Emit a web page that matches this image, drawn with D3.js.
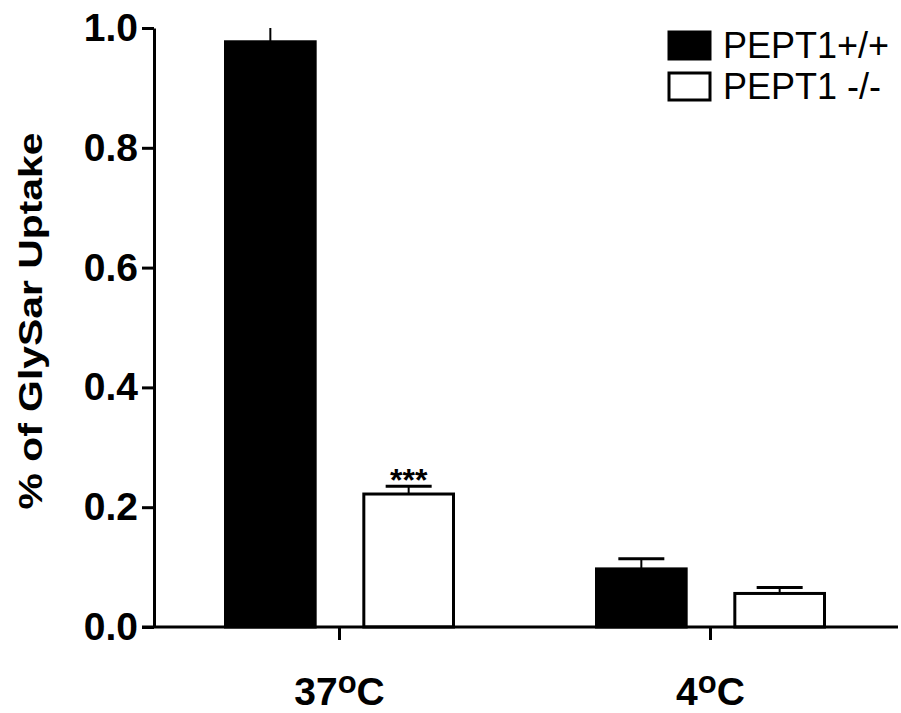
<!DOCTYPE html>
<html>
<head>
<meta charset="utf-8">
<script src="https://cdn.jsdelivr.net/npm/d3@7"></script>
<style>
  body { margin: 0; background: #fff; }
  svg { display: block; font-family: "Liberation Sans", Arial, sans-serif; }
</style>
</head>
<body>
<div id="chart"></div>
<script>
// data
const categories = ["37\u00b0C", "4\u00b0C"];
const series = ["PEPT1+/+", "PEPT1 -/-"];
const wildType = [0.977, 0.097];     // PEPT1+/+
const wildTypeErr = [0.03, 0.017];
const knockOut = [0.222, 0.056];     // PEPT1 -/-
const knockOutErr = [0.013, 0.010];
const significance = ["***", ""];    // over the knockout bar
const yTicks = [0.0, 0.2, 0.4, 0.6, 0.8, 1.0];

const w = 901, h = 713;

const rows = categories.map((c, i) => ({
    cat: c,
    bars: [
        { s: series[0], v: wildType[i], e: wildTypeErr[i] },
        { s: series[1], v: knockOut[i], e: knockOutErr[i], mark: significance[i] }
    ]
}));

const svg = d3.select("#chart").append("svg")
    .attr("width", w)
    .attr("height", h);

const yScale = d3.scaleLinear()
    .domain([0, 1])
    .range([627, 28]);

const x0 = d3.scaleBand()
    .domain(categories)
    .range([154, 896]);

const x1 = d3.scaleBand()
    .domain(series)
    .range([-115.5, 115.5])
    .paddingInner(0.33);

const fill = d3.scaleOrdinal().domain(series).range(["#000", "#fff"]);

// bars
const groups = svg.append("g").selectAll("g")
    .data(rows)
    .join("g")
    .attr("transform", d => "translate(" + (x0(d.cat) + x0.bandwidth() / 2) + ",0)");

groups.selectAll("rect")
    .data(d => d.bars)
    .join("rect")
    .attr("x", d => x1(d.s) + 1.5)
    .attr("width", x1.bandwidth() - 3)
    .attr("y", d => yScale(d.v))
    .attr("height", d => yScale(0) - yScale(d.v))
    .attr("fill", d => fill(d.s))
    .attr("stroke", "#000")
    .attr("stroke-width", 3);

// error bars, cut at the top of the axis
const errs = groups.selectAll("g.err")
    .data(d => d.bars)
    .join("g")
    .attr("class", "err")
    .attr("transform", d => "translate(" + (x1(d.s) + x1.bandwidth() / 2) + ",0)");

errs.append("line")
    .attr("y1", d => yScale(d.v))
    .attr("y2", d => yScale(Math.min(1, d.v + d.e)))
    .attr("stroke", "#000")
    .attr("stroke-width", 2);

errs.filter(d => d.v + d.e <= 1).append("line")
    .attr("x1", -23).attr("x2", 23)
    .attr("y1", d => yScale(d.v + d.e))
    .attr("y2", d => yScale(d.v + d.e))
    .attr("stroke", "#000")
    .attr("stroke-width", 3);

errs.filter(d => d.mark).append("text")
    .attr("y", d => yScale(d.v + d.e) + 5)
    .attr("text-anchor", "middle")
    .style("font-size", "32px")
    .style("font-weight", "bold")
    .text(d => d.mark);

// y axis
const yAxis = d3.axisLeft(yScale)
    .tickValues(yTicks)
    .tickSize(12)
    .tickSizeOuter(0)
    .tickPadding(4)
    .tickFormat(d3.format(".1f"));

const gy = svg.append("g")
    .attr("transform", "translate(154,0)")
    .call(yAxis);
gy.selectAll("path, line").attr("stroke", "#000").attr("stroke-width", 3);
gy.selectAll("text")
    .attr("fill", "#000")
    .style("font-size", "39px")
    .style("font-weight", "bold");

// x axis
const xAxis = d3.axisBottom(x0)
    .tickSize(13)
    .tickSizeOuter(0)
    .tickFormat("");

const gx = svg.append("g")
    .attr("transform", "translate(0,627)")
    .call(xAxis);
gx.select(".domain").remove();
gx.selectAll("line").attr("stroke", "#000").attr("stroke-width", 3);
gx.append("line")
    .attr("x1", 142).attr("x2", 898)
    .attr("stroke", "#000")
    .attr("stroke-width", 3);

// category labels with superscript o
const catLabels = svg.append("g").selectAll("text")
    .data(categories)
    .join("text")
    .attr("x", d => x0(d) + x0.bandwidth() / 2)
    .attr("y", 705)
    .attr("text-anchor", "middle")
    .style("font-size", "39px")
    .style("font-weight", "bold");
catLabels.append("tspan").text(d => d.split("\u00b0")[0]);
catLabels.append("tspan")
    .attr("dy", -12)
    .style("font-size", "31px")
    .text("o");
catLabels.append("tspan")
    .attr("dy", 12)
    .text(d => d.split("\u00b0")[1]);

// y title
svg.append("text")
    .attr("transform", "translate(42,321) rotate(-90)")
    .attr("text-anchor", "middle")
    .attr("textLength", 377)
    .attr("lengthAdjust", "spacingAndGlyphs")
    .style("font-size", "34px")
    .style("font-weight", "bold")
    .text("% of GlySar Uptake");

// legend
const legend = svg.append("g").selectAll("g")
    .data(series)
    .join("g")
    .attr("transform", (d, i) => "translate(669," + (32 + i * 41) + ")");

legend.append("rect")
    .attr("width", 41)
    .attr("height", 27)
    .attr("fill", d => fill(d))
    .attr("stroke", "#000")
    .attr("stroke-width", 3);

legend.append("text")
    .attr("x", 54)
    .attr("y", 26)
    .style("font-size", "36px")
    .text(d => d);
</script>
</body>
</html>
